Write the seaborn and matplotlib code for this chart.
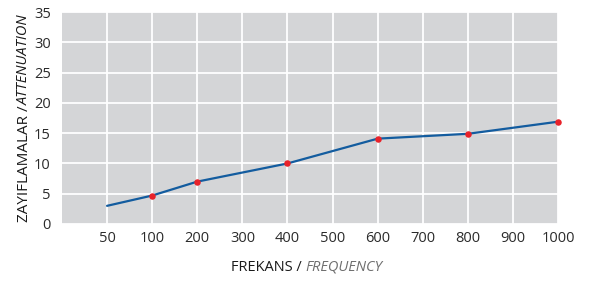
import matplotlib
matplotlib.use("Agg")
import matplotlib.pyplot as plt
import seaborn as sns
import pandas as pd

categories = ["50", "100", "200", "300", "400", "500", "600", "700", "800", "900", "1000"]
freqs = ["50", "100", "200", "400", "600", "800", "1000"]
attenuation = [3.0, 4.7, 7.0, 10.0, 14.1, 14.9, 16.9]
marked = [False, True, True, True, True, True, True]

sns.set_theme(style="darkgrid")
plt.rcParams["font.family"] = ["Open Sans", "DejaVu Sans"]

df = pd.DataFrame({"freq": freqs, "val": attenuation, "marked": marked})
df["pos"] = [categories.index(f) for f in freqs]

fig = plt.figure(figsize=(5.9, 2.82), dpi=100)
ax = fig.add_axes([0.105, 0.2057, 0.841, 0.7513])
ax.set_facecolor("#d4d5d7")

sns.lineplot(data=df, x="pos", y="val", ax=ax, color="#135c9f", lw=1.6)
sns.scatterplot(data=df[df["marked"]], x="pos", y="val", ax=ax, color="#e8222a",
                s=22, linewidth=0, zorder=5, clip_on=False)

ax.set_xlim(-1, 10)
ax.set_ylim(0, 35)
ax.set_xticks(range(len(categories)))
ax.set_xticklabels(categories)
ax.set_yticks(range(0, 36, 5))
ax.grid(True, color="white", lw=1.3)
for s in ax.spines.values():
    s.set_visible(False)
ax.tick_params(axis="both", length=0, labelsize=10.5, labelcolor="#2b2b2b")
ax.tick_params(axis="x", pad=5)
ax.tick_params(axis="y", pad=8)
ax.set_xlabel("")
ax.set_ylabel("")

# x label
fig.text(0.392, 0.04, "FREKANS / ", ha="left", va="baseline", fontsize=10.5, color="#1a1a1a")
fig.text(0.518, 0.04, "FREQUENCY", ha="left", va="baseline", fontsize=10.5, color="#6e6e6e", style="italic")
# y label
fig.text(0.047, 0.213, "ZAYIFLAMALAR / ", ha="left", va="baseline", rotation=90, fontsize=11,
         color="#1a1a1a", rotation_mode="anchor")
fig.text(0.047, 0.628, "ATTENUATION", ha="left", va="baseline", rotation=90, fontsize=10.5,
         color="#1a1a1a", style="italic", rotation_mode="anchor")

fig.savefig("out.png", dpi=100)
